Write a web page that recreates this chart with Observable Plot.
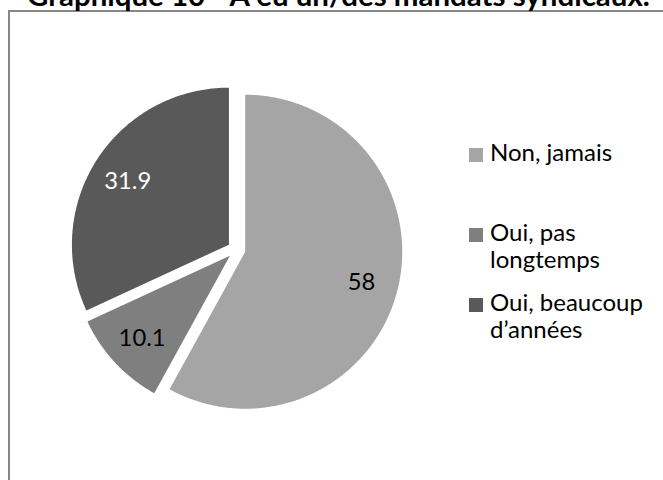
<!DOCTYPE html>
<html><head><meta charset="utf-8">
<script src="https://cdn.jsdelivr.net/npm/d3@7"></script>
<script src="https://cdn.jsdelivr.net/npm/@observablehq/plot@0.6"></script>
<style>
body{margin:0;background:#fff;}
#wrap{position:relative;width:663px;height:480px;overflow:hidden;font-family:Lato,"Open Sans",sans-serif;background:#fff;}
#wrap svg{position:absolute;left:0;top:0;}
.abs{position:absolute;white-space:nowrap;line-height:1;}
#frame{position:absolute;left:8px;top:10px;width:800px;height:600px;border-left:2px solid #878787;border-top:2px solid #878787;}
</style></head><body><div id="wrap"><div id="frame"></div></div>
<script>
const title = "Graphique 10 - A eu un/des mandats syndicaux.";
const categories = ["Non, jamais", "Oui, pas longtemps", "Oui, beaucoup d’années"];
const values = [58, 10.1, 31.9];
const valueLabels = ["58", "10.1", "31.9"];
const legendLines = [["Non, jamais"], ["Oui, pas", "longtemps"], ["Oui, beaucoup", "d’années"]];
const colors = ["#a5a5a5", "#7f7f7f", "#595959"];
const labelColors = ["#000000", "#000000", "#ffffff"];

// layout
const cx = 236, cy = 249, R = 157, explode = 9, labelFrac = 0.765;

function measure(text, font) {
  const c = document.createElement("canvas").getContext("2d");
  c.font = font;
  return c.measureText(text).width;
}
function fitSize(text, weight, family, target) {
  return 100 * target / measure(text, `${weight} 100px ${family}`);
}
const FAM = "Lato";

const arcs = d3.pie().sort(null).value(d => d)(values);
const polyRows = [];
const labelRows = [];
arcs.forEach((a, i) => {
  const mid = (a.startAngle + a.endAngle) / 2;
  const ox = cx + explode * Math.sin(mid), oy = cy - explode * Math.cos(mid);
  polyRows.push({slice: categories[i], x: ox, y: oy});
  const n = Math.max(2, Math.ceil((a.endAngle - a.startAngle) / 0.01));
  for (let k = 0; k <= n; k++) {
    const t = a.startAngle + (a.endAngle - a.startAngle) * k / n;
    polyRows.push({slice: categories[i], x: ox + R * Math.sin(t), y: oy - R * Math.cos(t)});
  }
  polyRows.push({slice: categories[i], x: ox, y: oy});
  labelRows.push({text: valueLabels[i], color: labelColors[i],
    x: ox + labelFrac * R * Math.sin(mid), y: oy - labelFrac * R * Math.cos(mid)});
});

const labelSize = fitSize("31.9", 400, FAM, 47);

const chart = Plot.plot({
  width: 663, height: 480,
  margin: 0,
  x: {type: "identity", axis: null},
  y: {type: "identity", axis: null},
  color: {domain: categories, range: colors},
  style: {background: "transparent", fontFamily: FAM},
  marks: [
    Plot.line(polyRows, {x: "x", y: "y", z: "slice", fill: "slice", stroke: "none", curve: "linear"}),
    Plot.text(labelRows.filter(d => d.color === "#000000"), {x: "x", y: "y", text: "text", fill: "#000", fontSize: labelSize, dy: 1}),
    Plot.text(labelRows.filter(d => d.color !== "#000000"), {x: "x", y: "y", text: "text", fill: "#fff", fontSize: labelSize, dy: 1})
  ]
});
const wrap = document.getElementById("wrap");
wrap.appendChild(chart);

// title (clipped at the top, as in the reference)
const tSize = fitSize(title, 700, FAM, 625);
const tEl = document.createElement("div");
tEl.className = "abs";
tEl.textContent = title;
tEl.style.cssText += `left:27px;font-weight:700;font-size:${tSize}px;color:#000;`;
const titleBaseline = 6;
tEl.style.top = (titleBaseline - 0.887 * tSize) + "px";
wrap.appendChild(tEl);

// legend
const legSize = fitSize("Oui, beaucoup", 400, FAM, 153);
const legTops = [148, 228, 298];
const lineGap = 27;
legendLines.forEach((lines, i) => {
  const sq = document.createElement("div");
  sq.style.cssText = `position:absolute;left:469px;top:${legTops[i]}px;width:14px;height:14px;background:${colors[i]};`;
  wrap.appendChild(sq);
  lines.forEach((ln, j) => {
    const el = document.createElement("div");
    el.className = "abs";
    el.textContent = ln;
    const baseline = legTops[i] + 13 + j * lineGap;
    el.style.cssText += `left:490px;font-size:${legSize}px;color:#000;top:${baseline - 0.887 * legSize}px;`;
    wrap.appendChild(el);
  });
});
</script></body></html>
